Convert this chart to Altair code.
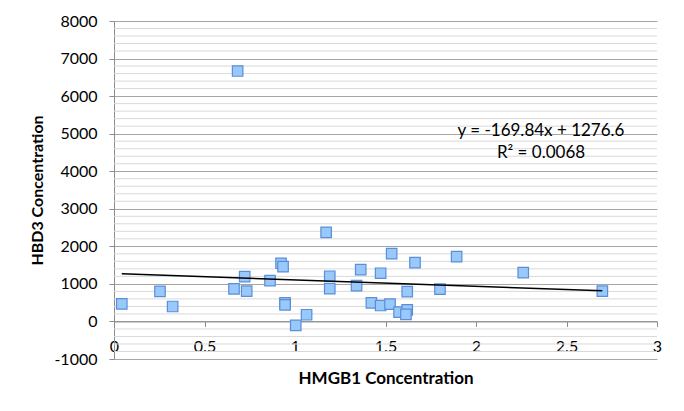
import altair as alt
import pandas as pd

# HMGB1 (x) vs HBD3 (y) concentrations
hmgb1 = [0.043, 0.254, 0.324, 0.683, 0.663, 0.722, 0.733, 0.862, 0.923, 0.934,
         0.945, 0.945, 1.004, 1.064, 1.172, 1.192, 1.192, 1.340, 1.363, 1.422,
         1.473, 1.473, 1.525, 1.534, 1.575, 1.620, 1.613, 1.620, 1.663, 1.801,
         1.893, 2.261, 2.698]
hbd3 = [470, 801, 398, 6668, 867, 1194, 806, 1088, 1549, 1459,
        496, 443, -106, 178, 2371, 1204, 875, 955, 1379, 496,
        1284, 424, 462, 1804, 249, 310, 186, 796, 1565, 859,
        1724, 1300, 806]

# trendline coefficients as printed on the chart
slope = -169.84
intercept = 1276.6
eq_lines = ["y = -169.84x + 1276.6", "R² = 0.0068"]

x_ticks = [0, 0.5, 1, 1.5, 2, 2.5, 3]
y_ticks = list(range(-1000, 8001, 1000))
y_minor = [v for v in range(-1000, 8001, 200) if v % 1000 != 0]

FONT = "Lato"
W, H = 543, 338

pts = pd.DataFrame({"x": hmgb1, "y": hbd3})
xmin, xmax = min(hmgb1), max(hmgb1)
trend = pd.DataFrame({"x": [xmin, xmax],
                      "y": [slope * xmin + intercept, slope * xmax + intercept]})
minor_df = pd.DataFrame({"y": y_minor})

xscale = alt.Scale(domain=[0, 3], nice=False, zero=False)
yscale = alt.Scale(domain=[-1000, 8000], nice=False, zero=False)

x_axis = alt.Axis(
    title="HMGB1 Concentration", values=x_ticks, format=".1~f", grid=False,
    offset=-H / 9, domainColor="#8c8c8c", tickColor="#8c8c8c",
    tickSize=5, labelPadding=12, labelFontSize=16, labelFont=FONT,
    labelColor="#000000", labelFlush=False,
    titleFont=FONT, titleFontSize=17, titleFontWeight="bold",
    titleColor="#000000", titleY=57, titleBaseline="middle")
y_axis = alt.Axis(
    title="HBD3 Concentration", values=y_ticks, labelExpr="'' + datum.value",
    grid=True, gridColor="#a6a6a6", gridWidth=1, domainColor="#8c8c8c",
    tickColor="#8c8c8c", tickSize=5, labelPadding=12, labelFontSize=16,
    labelFont=FONT, labelColor="#000000",
    titleFont=FONT, titleFontSize=16, titleFontWeight="bold",
    titleColor="#000000", titleX=-77, titleY=H / 2,
    titleBaseline="middle")

minor = alt.Chart(minor_df).mark_rule(color="#d9d9d9", strokeWidth=1).encode(
    y=alt.Y("y:Q", scale=yscale, axis=y_axis)
)

points = alt.Chart(pts).mark_point(
    shape="square", size=110, filled=True, fill="#99c8fa", stroke="#5a8ed8",
    strokeWidth=1.2, opacity=1, fillOpacity=1
).encode(
    x=alt.X("x:Q", scale=xscale, axis=x_axis),
    y=alt.Y("y:Q", scale=yscale, axis=y_axis),
)

line = alt.Chart(trend).mark_line(color="#000000", strokeWidth=1.5).encode(
    x=alt.X("x:Q", scale=xscale, axis=x_axis),
    y=alt.Y("y:Q", scale=yscale, axis=y_axis),
)

eq_layers = []
for i, t in enumerate(eq_lines):
    eq_layers.append(
        alt.Chart(pd.DataFrame({"t": [t]})).mark_text(
            font=FONT, fontSize=17, color="#000000", align="center",
            baseline="middle"
        ).encode(x=alt.value(427), y=alt.value(109.7 + 22 * i), text="t:N")
    )

chart = alt.layer(minor, points, line, *eq_layers).properties(
    width=W, height=H,
    autosize=alt.AutoSizeParams(type="none"),
    padding={"left": 106, "top": 13, "right": 19, "bottom": 40},
    background="#ffffff",
).configure_view(strokeWidth=0)

chart.save("out.html", embed_options={"renderer": "svg", "actions": False})
